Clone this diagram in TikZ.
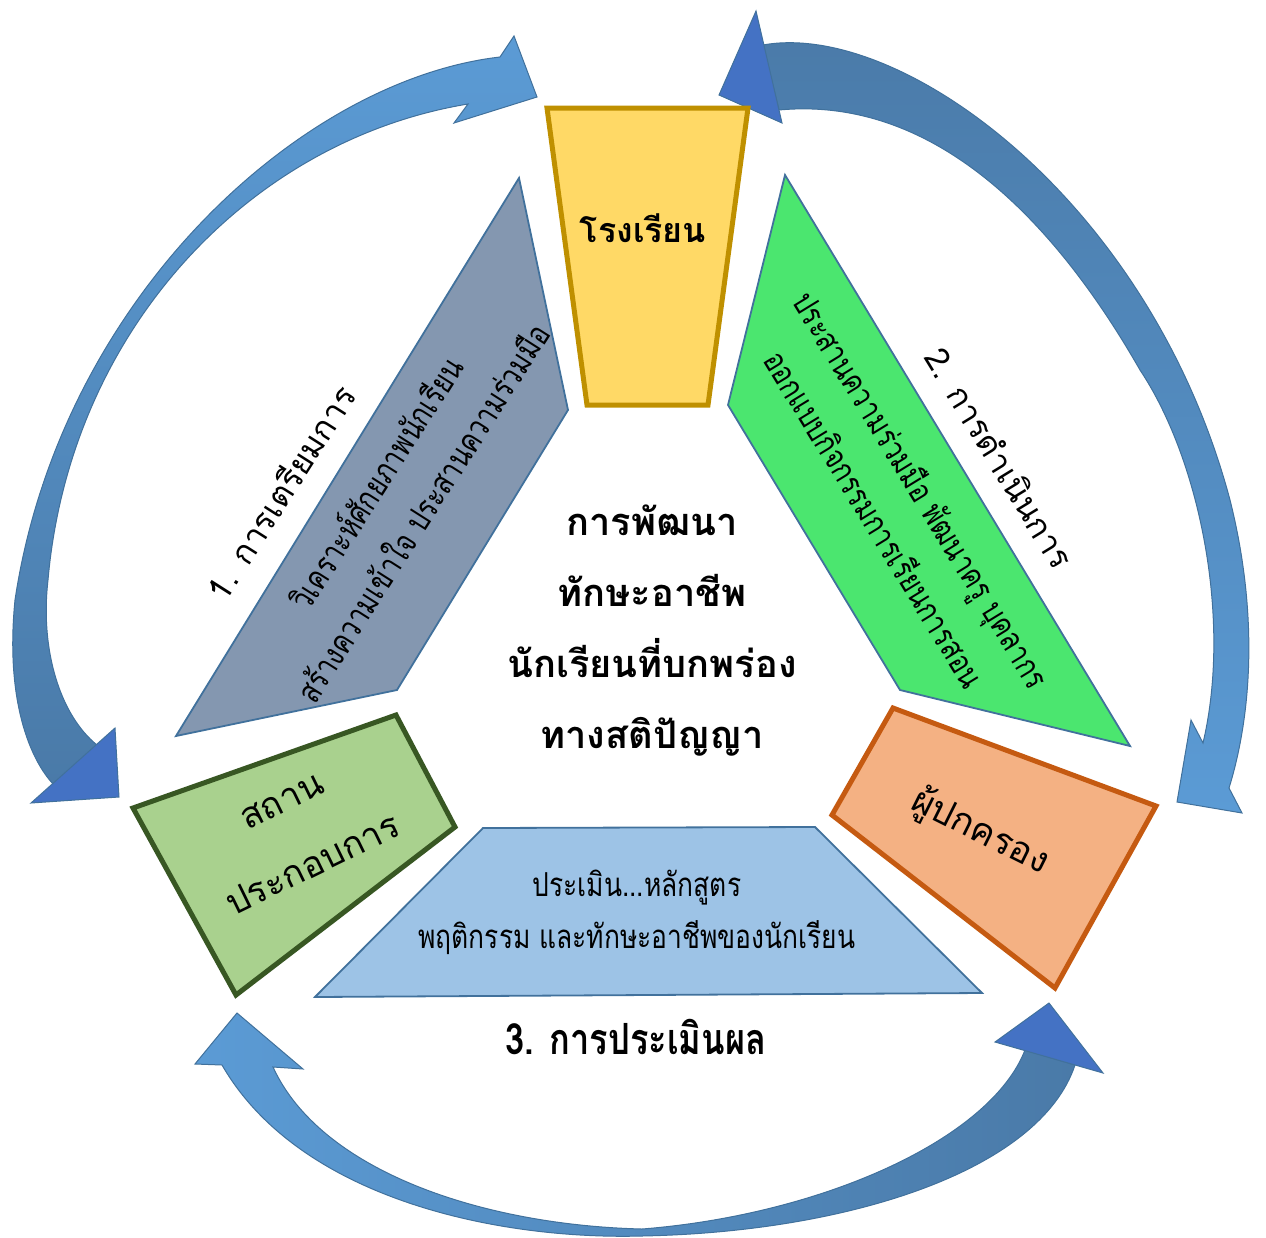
\documentclass[tikz,border=0pt]{standalone}
\usepackage{fontspec}
\newfontfamily\thaifont[Script=Thai]{Loma}
\newfontfamily\thaicond[Script=Thai,FakeStretch=0.8]{Loma}
\usetikzlibrary{positioning}
\definecolor{schoolfill}{HTML}{FFD966}
\definecolor{schoolline}{HTML}{BF9000}
\definecolor{prepfill}{HTML}{8497B0}
\definecolor{actfill}{HTML}{4BE66F}
\definecolor{evalfill}{HTML}{9DC3E6}
\definecolor{panelline}{HTML}{41719C}
\definecolor{firmfill}{HTML}{A9D18E}
\definecolor{firmline}{HTML}{385723}
\definecolor{parentfill}{HTML}{F4B183}
\definecolor{parentline}{HTML}{C55A11}
\definecolor{arrowlight}{HTML}{5B9BD5}
\definecolor{arrowdark}{HTML}{4A7AA8}
\definecolor{arrowhead}{HTML}{4472C4}
\tikzset{
  % Specifications for style of shapes and texts:
  base/.style = {
    line join=miter
  },
  box/.style = {
    base,
    line width=5pt
  },
  panel/.style = {
    base,
    draw=panelline,
    line width=1.8pt
  },
  arrowbody/.style = {
    base,
    draw=panelline,
    line width=1pt
  },
  bigtext/.style = {
    font=\thaifont\fontsize{36}{71}\selectfont,
    align=center,
    inner sep=0pt
  },
  boldtext/.style = {
    bigtext,
    font=\thaifont\bfseries\fontsize{38}{71}\selectfont
  },
  steptext/.style = {
    bigtext,
    font=\thaifont\fontsize{33}{60}\selectfont
  },
  smalltext/.style = {
    font=\thaicond\fontsize{33}{55}\selectfont,
    align=center,
    inner sep=0pt
  },
}
\begin{document}
\begin{tikzpicture}[x=1pt, y=-1pt]
    \useasboundingbox (0,0) rectangle (1266,1237);
    % Curved arrows round the cycle
    \shade[arrowbody, top color=arrowlight, bottom color=arrowdark]
      (500,57) -- (514,36) -- (537,97) -- (454,123) -- (468,104)
      .. controls (250,140) and (70,330) .. (48,580)
      .. controls (40,650) and (60,715) .. (97,745)
      -- (54,785)
      .. controls (30,760) and (5,700) .. (15,600)
      .. controls (60,300) and (300,80) .. (500,57) -- cycle;
    \draw[arrowbody, fill=arrowhead] (31,803) -- (115,728) -- (119,797) -- cycle;
    \shade[arrowbody, top color=arrowdark, bottom color=arrowlight]
      (763,45) .. controls (900,20) and (1150,200) .. (1230,500)
      .. controls (1260,620) and (1250,720) .. (1229,788)
      -- (1242,813) -- (1177,802) -- (1191,720) -- (1203,743)
      .. controls (1232,620) and (1200,460) .. (1140,370)
      .. controls (1060,230) and (940,95) .. (779,110) -- cycle;
    \draw[arrowbody, fill=arrowhead] (756,11) -- (719,95) -- (782,123) -- cycle;
    \shade[arrowbody, left color=arrowlight, right color=arrowdark]
      (273,1067) -- (303,1069) -- (237,1013) -- (195,1064) -- (222,1065)
      .. controls (300,1200) and (500,1240) .. (642,1236)
      .. controls (850,1232) and (1040,1170) .. (1075,1065)
      -- (1025,1050)
      .. controls (990,1140) and (820,1215) .. (642,1229)
      .. controls (480,1225) and (320,1170) .. (273,1067) -- cycle;
    \draw[arrowbody, fill=arrowhead] (995,1042) -- (1049,1003) -- (1103,1073) -- cycle;
    % Panels of the three steps
    \draw[panel, fill=prepfill] (519,178) -- (568,410) -- (397,690) -- (176,736) -- cycle;
    \draw[panel, fill=actfill] (785,175) -- (1130,746) -- (900,690) -- (728,405) -- cycle;
    \draw[panel, fill=evalfill] (483,828) -- (815,827) -- (982,993) -- (315,997) -- cycle;
    % Boxes of the three partners
    \draw[box, draw=schoolline, fill=schoolfill] (547,108) -- (748,108) -- (708,405) -- (587,405) -- cycle;
    \draw[box, draw=firmline, fill=firmfill] (133,808) -- (396,715) -- (455,827) -- (236,995) -- cycle;
    \draw[box, draw=parentline, fill=parentfill] (832,815) -- (893,708) -- (1156,806) -- (1055,988) -- cycle;
    % Texts
    \node[boldtext, font=\thaifont\bfseries\fontsize{34}{71}\selectfont] (school) at (643,228) {โรงเรียน};
    \node[bigtext, rotate=26] (firm) at (298,834) {สถาน\\ประกอบการ};
    \node[bigtext, rotate=-26.5] (parent) at (980,832) {ผู้ปกครอง};
    \node[boldtext] (goal) at (652,631)
      {การพัฒนา\\ทักษะอาชีพ\\นักเรียนที่บกพร่อง\\ทางสติปัญญา};
    \node[steptext, rotate=57.5] (step1) at (280,492) {1. การเตรียมการ};
    \node[smalltext, rotate=57.5] (prep) at (398,497)
      {วิเคราะห์ศักยภาพนักเรียน\\สร้างความเข้าใจ ประสานความร่วมมือ};
    \node[steptext, rotate=-58.5] (step2) at (1000,458) {2. การดำเนินการ};
    \node[smalltext, rotate=-58.5] (act) at (899,504)
      {ประสานความร่วมมือ พัฒนาครู บุคลากร\\ออกแบบกิจกรรมการเรียนการสอน};
    \node[smalltext, font=\thaicond\fontsize{33}{52}\selectfont] (eval) at (637,912)
      {ประเมิน...หลักสูตร\\พฤติกรรม และทักษะอาชีพของนักเรียน};
    \node[bigtext, font=\thaicond\bfseries\fontsize{43}{60}\selectfont] (step3) at (636,1037) {3. การประเมินผล};
\end{tikzpicture}
\end{document}
